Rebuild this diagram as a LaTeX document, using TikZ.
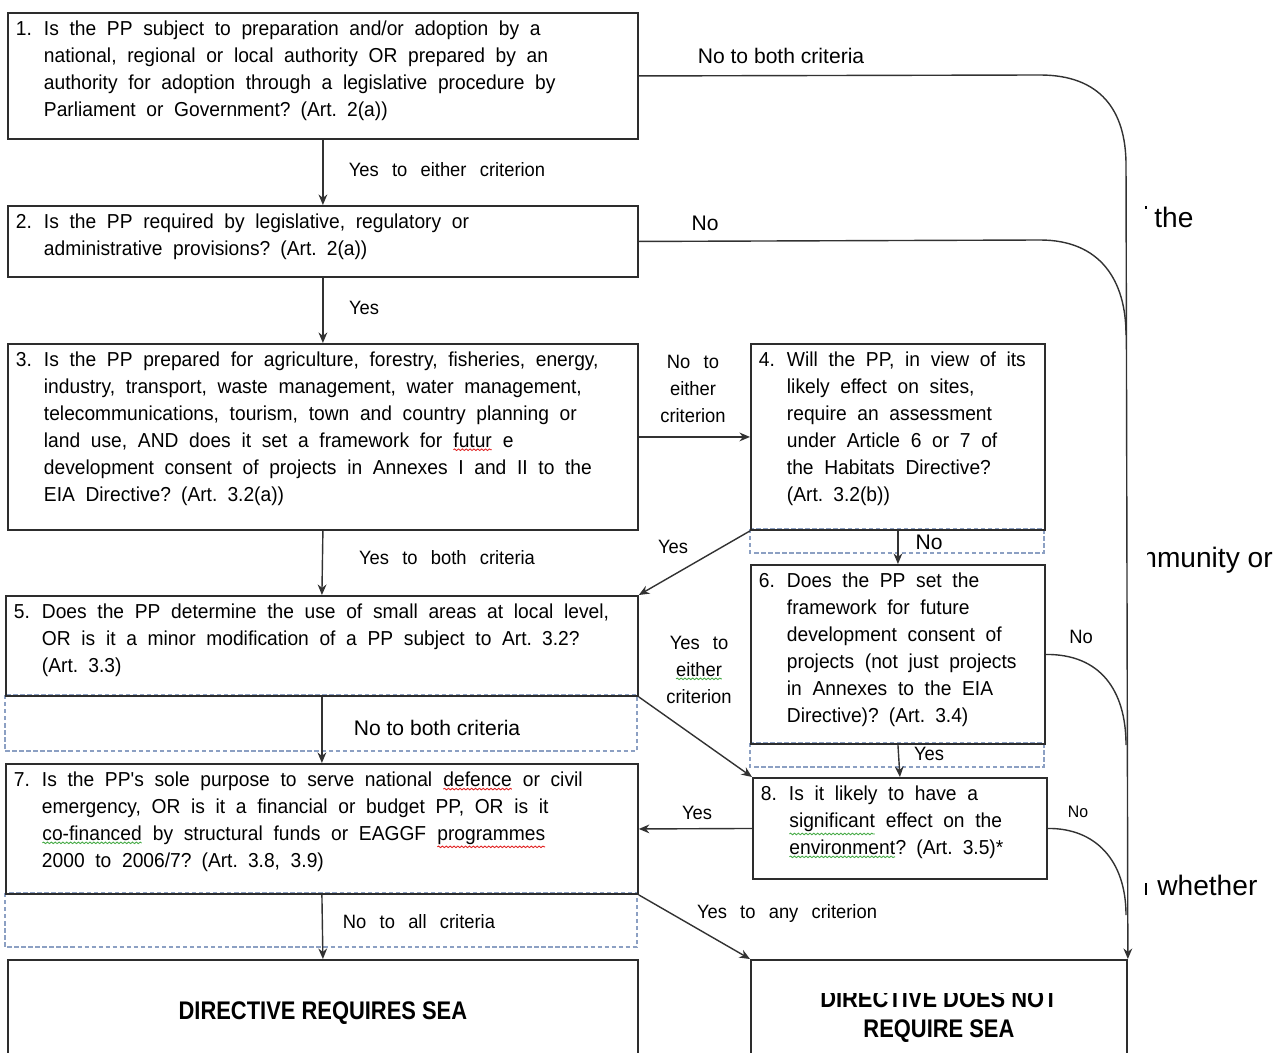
\documentclass[tikz,border=0pt]{standalone}
\usepackage{fontspec}
\setmainfont{Liberation Sans}
\newfontfamily\narrowfont{Liberation Sans}[FakeStretch=0.95,WordSpace=2.6]
\newfontfamily\boxfont{Liberation Sans}[FakeStretch=0.951,WordSpace=2.0]
\newfontfamily\endfont{Liberation Sans}[FakeStretch=0.86]
\usetikzlibrary{positioning,arrows.meta,decorations.pathmorphing}

\definecolor{boxgray}{RGB}{45,45,45}
\definecolor{linegray}{RGB}{50,50,50}
\definecolor{dashblue}{RGB}{140,160,195}
\definecolor{spellred}{RGB}{225,35,35}
\definecolor{spellgreen}{RGB}{70,170,70}

% question text: number, then the lines with a hanging indent
\newcommand{\qtext}[2]{\noindent\spaceskip=0pt\relax\makebox[0.56cm][l]{#1}\begin{tabular}[t]{@{}l@{}}#2\end{tabular}}
% word with a wavy spell-check line under it
\newcommand{\spell}[2]{\tikz[baseline=(sw.base)]{\node[inner sep=0pt, outer sep=0pt] (sw) {#2};
  \draw[#1, line width=0.5pt, decorate, decoration={snake, amplitude=0.45pt, segment length=2.2pt}] ([yshift=-1.2pt]sw.south west) -- ([yshift=-1.2pt]sw.south east);}}

\tikzset{
  qbox/.style={draw=boxgray, line width=1.1pt, anchor=north west, inner xsep=0.16cm, inner ysep=0.08cm, text height=10.71pt, align=left, font=\boxfont\fontsize{11.5pt}{15.3pt}\selectfont},
  endbox/.style={draw=boxgray, line width=1.1pt, anchor=north west, inner sep=0pt}
}

\begin{document}
\begin{tikzpicture}[x=0.02cm, y=-0.02cm,
  font=\narrowfont\fontsize{11pt}{15.3pt}\selectfont,
  lbl/.style={inner sep=0pt, align=center},
  wlbl/.style={inner sep=0pt, font=\normalfont\fontsize{12pt}{14pt}\selectfont},
  frag/.style={inner sep=0pt, anchor=base west, font=\normalfont\fontsize{16pt}{19pt}\selectfont},
  endtxt/.style={inner sep=0pt, align=center, font=\endfont\bfseries\fontsize{14.5pt}{17pt}\selectfont},
  conn/.style={draw=linegray, line width=0.8pt},
  arr/.style={conn, -{Stealth[length=6pt,width=5pt]}},
  dashbox/.style={draw=dashblue, line width=0.6pt, dash pattern=on 2.5pt off 1.5pt}]
\useasboundingbox (0,0) rectangle (1283,1053);
\clip (0,0) rectangle (1283,1053);

% dashed label areas
\draw[dashbox] (750,529) rectangle (1044,553);
\draw[dashbox] (5,695) rectangle (637,751);
\draw[dashbox] (750,743) rectangle (1044,767);
\draw[dashbox] (5,893) rectangle (637,947);

% questions
\node[qbox, text width=12.28cm, text depth=56.44pt] (q1) at (7,12) {\qtext{1.}{Is the PP subject to preparation and/or adoption by a\\national, regional or local authority OR prepared by an\\authority for adoption through a legislative procedure by\\Parliament or Government? (Art. 2(a))}};
\node[qbox, text width=12.28cm, text depth=25.14pt] (q2) at (7,205) {\qtext{2.}{Is the PP required by legislative, regulatory or\\administrative provisions? (Art. 2(a))}};
\node[qbox, text width=12.28cm, text depth=90.59pt] (q3) at (7,343) {\qtext{3.}{Is the PP prepared for agriculture, forestry, fisheries, energy,\\industry, transport, waste management, water management,\\telecommunications, tourism, town and country planning or\\land use, AND does it set a framework for \spell{spellred}{futur} e\\development consent of projects in Annexes I and II to the\\EIA Directive? (Art. 3.2(a))}};
\node[qbox, text width=5.56cm, text depth=90.59pt] (q4) at (750,343) {\qtext{4.}{Will the PP, in view of its\\likely effect on sites,\\require an assessment\\under Article 6 or 7 of\\the Habitats Directive?\\(Art. 3.2(b))}};
\node[qbox, text width=12.32cm, text depth=41.65pt] (q5) at (5,595) {\qtext{5.}{Does the PP determine the use of small areas at local level,\\OR is it a minor modification of a PP subject to Art. 3.2?\\(Art. 3.3)}};
\node[qbox, text width=5.56cm, text depth=86.60pt] (q6) at (750,564) {\qtext{6.}{Does the PP set the\\framework for future\\development consent of\\projects (not just projects\\in Annexes to the EIA\\Directive)? (Art. 3.4)}};
\node[qbox, text width=12.32cm, text depth=58.72pt] (q7) at (5,763) {\qtext{7.}{Is the PP's sole purpose to serve national \spell{spellred}{defence} or civil\\emergency, OR is it a financial or budget PP, OR is it\\\spell{spellgreen}{co-financed} by structural funds or EAGGF \spell{spellred}{programmes}\\2000 to 2006/7? (Art. 3.8, 3.9)}};
\node[qbox, text width=5.56cm, text depth=42.22pt] (q8) at (752,777) {\qtext{8.}{Is it likely to have a\\\spell{spellgreen}{significant} effect on the\\\spell{spellgreen}{environment}? (Art. 3.5)*}};

% outcomes
\node[endbox, endtxt, minimum width=12.6cm, minimum height=2.12cm] (req) at (7,959) {DIRECTIVE REQUIRES SEA};
\node[endbox, minimum width=7.52cm, minimum height=2.2cm] (nreq) at (750,959) {};
\begin{scope}
  \clip (750,993) rectangle (1126,1053);
  \node[endtxt] (nreqtxt) at ([yshift=-0.03cm]nreq.center) {DIRECTIVE DOES NOT\\REQUIRE SEA};
\end{scope}

% main line
\draw[arr] (q1.south) -- (q2.north);
\draw[arr] (q2.south) -- (q3.north);
\draw[arr] (q3.south) -- (q5.north);
\draw[arr] (q5.south) -- (q7.north);
\draw[arr] (q7.south) -- (req.north);
\draw[arr] (q3.east) -- (q4.west);
\draw[arr] (q4.south) -- (q6.north);
\draw[arr] (q4.south west) -- (q5.north east);
\draw[arr] (q5.south east) -- (q8.north west);
\draw[arr] (q6.south) -- (q8.north);
\draw[arr] (q8.west) -- (q7.east);
\draw[arr] (q7.south east) -- (nreq.north west);

% "no" branches to the right
\coordinate (j2) at (1126,335);
\coordinate (j6) at (1126,745);
\coordinate (j8) at (1126,915);
\draw[arr] (q1.east) -- (1040,75) .. controls (1100,75) and (1126,110) .. (1126,165) -- (nreq.north east);
\draw[conn] (q2.east) -- (1040,240) .. controls (1100,240) and (1126,280) .. (j2);
\draw[conn] (q6.east) .. controls (1100,654) and (1126,690) .. (j6);
\draw[conn] (q8.east) .. controls (1095,828) and (1126,860) .. (j8);

% labels
\node[lbl] (l12) at (447,170) {Yes to either criterion};
\node[lbl] (l23) at (364,308) {Yes};
\node[lbl] (l35) at (447,558) {Yes to both criteria};
\node[wlbl] (l57) at (437,728) {No to both criteria};
\node[lbl] (l7r) at (419,922) {No to all criteria};
\node[lbl] (l34) at (693,389) {No to\\either\\criterion};
\node[wlbl] (l46) at (929,542) {No};
\node[lbl] (l45) at (673,547) {Yes};
\node[lbl] (l58) at (699,670) {Yes to\\\spell{spellgreen}{either}\\criterion};
\node[lbl] (l68) at (929,754) {Yes};
\node[lbl] (l87) at (697,813) {Yes};
\node[lbl] (l7n) at (787,913) {Yes to any criterion};
\node[wlbl] (ln1) at (781,56) {No to both criteria};
\node[wlbl] (ln2) at (705,223) {No};
\node[lbl] (ln6) at (1081,637) {No};
\node[lbl, font=\narrowfont\fontsize{9.5pt}{11pt}\selectfont] (ln8) at (1078,812) {No};

% cut-off text on the right
\node[frag] (f1) at (1154,228) {the};
\draw[line width=0.6pt] (1146,206) -- (1146,209);
\begin{scope}
  \clip (1147,520) rectangle (1283,580);
  \node[frag, anchor=base east] (f2) at (1273,567) {community or};
\end{scope}
\node[frag] (f3) at (1157,895) {whether};
\draw[line width=1pt] (1146,883) -- (1146,895);
\end{tikzpicture}
\end{document}
